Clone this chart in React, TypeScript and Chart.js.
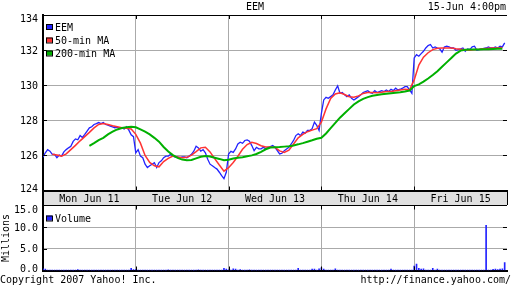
import React, { useEffect, useRef } from "react";
import { Chart, registerables } from "chart.js";

Chart.register(...registerables);

const TITLE = "EEM";
const STAMP = "15-Jun 4:00pm";
const DAYS = ["Mon Jun 11", "Tue Jun 12", "Wed Jun 13", "Thu Jun 14", "Fri Jun 15"];
const PRICE_TICKS = [124, 126, 128, 130, 132, 134];
const VOLUME_TICKS = [0, 5, 10, 15];
const SERIES_NAMES = ["EEM", "50-min MA", "200-min MA"];

// EEM price, 40 samples per trading day
const EEM_MON = [125.9, 126.15, 126.33, 126.24, 126.06, 126.06, 125.87, 126.02, 125.96, 126.2, 126.33, 126.43, 126.52, 126.8, 126.94, 126.89, 127.13, 127.02, 127.2, 127.39, 127.57, 127.63, 127.76, 127.81, 127.87, 127.81, 127.87, 127.76, 127.72, 127.67, 127.63, 127.57, 127.61, 127.54, 127.57, 127.5, 127.63, 127.44, 127.17, 127.07];
const EEM_TUE = [126.15, 126.33, 125.96, 125.87, 125.5, 125.31, 125.41, 125.5, 125.59, 125.31, 125.59, 125.69, 125.87, 125.96, 125.96, 126.06, 125.96, 125.91, 125.91, 125.87, 125.91, 125.91, 125.87, 125.96, 126.06, 126.24, 126.52, 126.43, 126.24, 126.33, 126.15, 125.78, 125.5, 125.41, 125.31, 125.22, 125.04, 124.85, 124.67, 125.04];
const EEM_WED = [126.08, 126.23, 126.17, 126.37, 126.65, 126.75, 126.69, 126.85, 126.88, 126.81, 126.56, 126.27, 126.46, 126.37, 126.37, 126.46, 126.37, 126.46, 126.5, 126.56, 126.46, 126.27, 126.08, 126.12, 126.27, 126.37, 126.46, 126.65, 126.85, 127.13, 127.23, 127.13, 127.33, 127.27, 127.42, 127.42, 127.52, 127.9, 127.71, 127.42];
const EEM_THU = [128.4, 129.16, 129.31, 129.25, 129.35, 129.45, 129.73, 129.96, 129.54, 129.58, 129.45, 129.35, 129.45, 129.25, 129.16, 129.25, 129.35, 129.45, 129.58, 129.64, 129.69, 129.58, 129.54, 129.69, 129.58, 129.64, 129.69, 129.64, 129.73, 129.64, 129.77, 129.69, 129.83, 129.73, 129.77, 129.83, 129.92, 129.92, 129.73, 129.54];
const EEM_FRI = [131.55, 131.74, 131.65, 131.8, 131.93, 132.12, 132.26, 132.32, 132.12, 132.18, 132.12, 132.07, 131.88, 132.18, 132.22, 132.18, 132.12, 132.12, 131.99, 132.03, 132.07, 132.12, 131.93, 132.07, 132.03, 132.18, 132.22, 131.99, 132.03, 132.07, 132.1, 132.12, 132.18, 132.12, 132.12, 132.18, 132.12, 132.22, 132.18, 132.41];

// 50-min moving average, 20 samples per day
const MA50_MON = [null, null, 126.06, 126.02, 125.96, 126.09, 126.33, 126.57, 126.83, 127.07, 127.31, 127.57, 127.76, 127.81, 127.76, 127.69, 127.63, 127.57, 127.54, 127.5];
const MA50_TUE = [127.2, 126.7, 126.0, 125.6, 125.41, 125.35, 125.65, 125.83, 125.96, 125.91, 125.87, 125.89, 126.02, 126.22, 126.43, 126.46, 126.2, 125.82, 125.45, 125.1];
const MA50_WED = [125.3, 125.6, 125.95, 126.35, 126.62, 126.75, 126.68, 126.55, 126.48, 126.48, 126.45, 126.26, 126.17, 126.3, 126.65, 127.0, 127.2, 127.35, 127.44, 127.52];
const MA50_THU = [127.9, 128.65, 129.25, 129.5, 129.57, 129.47, 129.34, 129.31, 129.39, 129.53, 129.58, 129.58, 129.57, 129.6, 129.64, 129.64, 129.69, 129.73, 129.77, 129.74];
const MA50_FRI = [130.3, 131.15, 131.6, 131.85, 132.03, 132.1, 132.12, 132.12, 132.12, 132.08, 132.05, 132.02, 131.99, 132.03, 132.05, 132.08, 132.1, 132.12, 132.12, 132.15];

// 200-min moving average, 20 samples per day
const MA200_MON = [null, null, null, null, null, null, null, null, null, null, 126.54, 126.7, 126.87, 127.0, 127.2, 127.35, 127.48, 127.56, 127.6, 127.63];
const MA200_TUE = [127.6, 127.48, 127.35, 127.2, 127.0, 126.78, 126.48, 126.22, 126.02, 125.86, 125.76, 125.72, 125.74, 125.83, 125.92, 125.96, 125.94, 125.87, 125.8, 125.72];
const MA200_WED = [125.75, 125.82, 125.86, 125.9, 125.95, 126.0, 126.08, 126.2, 126.35, 126.45, 126.47, 126.48, 126.5, 126.52, 126.57, 126.63, 126.7, 126.78, 126.86, 126.95];
const MA200_THU = [127.0, 127.25, 127.55, 127.85, 128.15, 128.4, 128.65, 128.9, 129.08, 129.22, 129.32, 129.4, 129.44, 129.48, 129.51, 129.54, 129.57, 129.6, 129.64, 129.7];
const MA200_FRI = [129.95, 130.05, 130.2, 130.38, 130.58, 130.8, 131.05, 131.3, 131.55, 131.8, 131.97, 132.02, 132.03, 132.04, 132.03, 132.05, 132.05, 132.06, 132.07, 132.08];

// Volume in millions, 40 samples per day
const VOL_MON = [0.4, 0.3, 0.1, 0.05, 0.08, 0.05, 0.06, 0.05, 0.05, 0.04, 0.05, 0.06, 0.05, 0.04, 0.05, 0.2, 0.05, 0.04, 0.05, 0.04, 0.05, 0.04, 0.03, 0.05, 0.04, 0.05, 0.04, 0.04, 0.05, 0.04, 0.05, 0.04, 0.05, 0.04, 0.05, 0.06, 0.08, 0.1, 0.5, 0.2];
const VOL_TUE = [0.2, 0.1, 0.06, 0.05, 0.05, 0.04, 0.05, 0.04, 0.05, 0.04, 0.05, 0.04, 0.05, 0.04, 0.15, 0.04, 0.05, 0.04, 0.05, 0.04, 0.05, 0.04, 0.05, 0.04, 0.05, 0.04, 0.05, 0.15, 0.05, 0.04, 0.05, 0.04, 0.05, 0.06, 0.05, 0.06, 0.08, 0.1, 0.5, 0.3];
const VOL_WED = [0.15, 0.1, 0.4, 0.3, 0.05, 0.2, 0.05, 0.04, 0.05, 0.15, 0.04, 0.05, 0.04, 0.05, 0.04, 0.05, 0.04, 0.05, 0.04, 0.05, 0.04, 0.05, 0.04, 0.05, 0.04, 0.05, 0.04, 0.05, 0.06, 0.05, 0.5, 0.05, 0.06, 0.05, 0.06, 0.08, 0.3, 0.3, 0.1, 0.4];
const VOL_THU = [0.6, 0.3, 0.1, 0.06, 0.05, 0.05, 0.4, 0.05, 0.04, 0.05, 0.04, 0.05, 0.04, 0.05, 0.04, 0.05, 0.04, 0.05, 0.04, 0.05, 0.04, 0.05, 0.04, 0.05, 0.04, 0.05, 0.04, 0.05, 0.04, 0.05, 0.3, 0.05, 0.04, 0.05, 0.04, 0.05, 0.06, 0.05, 0.08, 0.1];
const VOL_FRI = [1.0, 1.5, 0.5, 0.3, 0.4, 0.1, 0.08, 0.06, 0.5, 0.06, 0.3, 0.05, 0.04, 0.05, 0.04, 0.05, 0.04, 0.05, 0.04, 0.05, 0.04, 0.05, 0.04, 0.05, 0.04, 0.05, 0.04, 0.05, 0.04, 0.05, 0.06, 10.4, 0.05, 0.06, 0.25, 0.3, 0.2, 0.3, 0.4, 1.8];

const FONT = "'DejaVu Sans Mono', monospace";
const GRID = "#aaaaaa";
const BLUE = "#2222ff";
const RED = "#ff3333";
const GREEN = "#00b000";
const BAND = "#e0e0e0";

function toPoints(days: (number | null)[][], perDay: number) {
  const pts: { x: number; y: number }[] = [];
  days.forEach((arr, d) =>
    arr.forEach((v, i) => {
      if (v !== null) pts.push({ x: d + i / perDay, y: v });
    })
  );
  return pts;
}

function innerTicks(chart: any, yVals: number[], xVals: number[]) {
  const { ctx, chartArea: a, scales } = chart;
  ctx.save();
  ctx.strokeStyle = "#000";
  ctx.lineWidth = 1;
  ctx.beginPath();
  yVals.forEach((v) => {
    const y = Math.round(scales.y.getPixelForValue(v)) + 0.5;
    ctx.moveTo(a.left, y);
    ctx.lineTo(a.left + 4, y);
    ctx.moveTo(a.right - 4, y);
    ctx.lineTo(a.right, y);
  });
  xVals.forEach((v) => {
    const x = Math.round(scales.x.getPixelForValue(v)) + 0.5;
    ctx.moveTo(x, a.top);
    ctx.lineTo(x, a.top + 4);
    ctx.moveTo(x, a.bottom - 4);
    ctx.lineTo(x, a.bottom);
  });
  ctx.stroke();
  ctx.restore();
}

// y tick labels, placed by the scale but kept inside the plot's height
function yLabels(chart: any, values: number[], fmt: (v: number) => string) {
  const { ctx, chartArea: a, scales } = chart;
  ctx.save();
  ctx.font = `10px ${FONT}`;
  ctx.fillStyle = "#000";
  ctx.textAlign = "right";
  ctx.textBaseline = "middle";
  values.forEach((v) => {
    let y = scales.y.getPixelForValue(v) + 1;
    y = Math.min(Math.max(y, a.top + 4.5), a.bottom - 1.5);
    ctx.fillText(fmt(v), a.left - 5, y);
  });
  ctx.restore();
}

function legendItem(ctx: CanvasRenderingContext2D, x: number, y: number, color: string, text: string) {
  ctx.fillStyle = color;
  ctx.fillRect(x, y, 6, 5);
  ctx.strokeStyle = "#000";
  ctx.lineWidth = 1;
  ctx.strokeRect(x + 0.5, y + 0.5, 6, 5);
  ctx.fillStyle = "#000";
  ctx.textAlign = "left";
  ctx.textBaseline = "middle";
  ctx.fillText(text, x + 9, y + 4);
}

const priceDecor = {
  id: "priceDecor",
  beforeDraw(chart: any) {
    const { ctx, chartArea: a, height } = chart;
    ctx.save();
    ctx.fillStyle = BAND;
    ctx.fillRect(a.left, a.bottom, a.right - a.left, height - a.bottom);
    ctx.restore();
  },
  afterDraw(chart: any) {
    const { ctx, chartArea: a, height } = chart;
    innerTicks(chart, [126, 128, 130, 132], [1, 2, 3, 4]);
    yLabels(chart, PRICE_TICKS, (v) => String(v));
    ctx.save();
    ctx.strokeStyle = "#000";
    ctx.lineWidth = 2;
    ctx.beginPath();
    ctx.moveTo(a.left, a.bottom);
    ctx.lineTo(a.left, height);
    ctx.stroke();
    ctx.lineWidth = 1;
    ctx.beginPath();
    ctx.moveTo(a.right + 0.5, a.bottom);
    ctx.lineTo(a.right + 0.5, height);
    ctx.stroke();
    ctx.font = `10px ${FONT}`;
    ctx.fillStyle = "#000";
    ctx.textBaseline = "middle";
    ctx.textAlign = "center";
    ctx.fillText(TITLE, 255, 7.5);
    ctx.textAlign = "right";
    ctx.fillText(STAMP, 506, 7.5);
    legendItem(ctx, 46, 24, BLUE, SERIES_NAMES[0]);
    legendItem(ctx, 46, 37.5, RED, SERIES_NAMES[1]);
    legendItem(ctx, 46, 50.5, GREEN, SERIES_NAMES[2]);
    ctx.restore();
  },
};

const volumeDecor = {
  id: "volumeDecor",
  afterDraw(chart: any) {
    const { ctx } = chart;
    innerTicks(chart, [5, 10], [1, 2, 3, 4]);
    yLabels(chart, VOLUME_TICKS, (v) => v.toFixed(1));
    ctx.save();
    ctx.font = `10px ${FONT}`;
    legendItem(ctx, 46, 10.5, BLUE, "Volume");
    ctx.fillStyle = "#000";
    ctx.textBaseline = "middle";
    ctx.textAlign = "left";
    ctx.fillText("Copyright 2007 Yahoo! Inc.", 0, 75.5);
    ctx.textAlign = "right";
    ctx.fillText("http://finance.yahoo.com/", 511, 75.5);
    ctx.restore();
  },
};

export default function App() {
  const priceRef = useRef<HTMLCanvasElement>(null);
  const volRef = useRef<HTMLCanvasElement>(null);

  useEffect(() => {
    Chart.defaults.font.family = FONT;
    Chart.defaults.font.size = 10;
    Chart.defaults.color = "#000";

    const eem = toPoints([EEM_MON, EEM_TUE, EEM_WED, EEM_THU, EEM_FRI], 40);
    const ma50 = toPoints([MA50_MON, MA50_TUE, MA50_WED, MA50_THU, MA50_FRI], 20);
    const ma200 = toPoints([MA200_MON, MA200_TUE, MA200_WED, MA200_THU, MA200_FRI], 20);
    const vol = toPoints([VOL_MON, VOL_TUE, VOL_WED, VOL_THU, VOL_FRI], 40);

    const priceChart = new Chart(priceRef.current as HTMLCanvasElement, {
      type: "line",
      data: {
        datasets: [
          { label: SERIES_NAMES[2], data: ma200, borderColor: GREEN, borderWidth: 2, pointRadius: 0, tension: 0 },
          { label: SERIES_NAMES[1], data: ma50, borderColor: RED, borderWidth: 1.5, pointRadius: 0, tension: 0 },
          { label: SERIES_NAMES[0], data: eem, borderColor: BLUE, borderWidth: 1.3, pointRadius: 0, tension: 0 },
        ],
      },
      options: {
        animation: false,
        responsive: false,
        maintainAspectRatio: false,
        layout: { autoPadding: false, padding: { left: 0, right: 5, top: 15, bottom: 0 } },
        plugins: { legend: { display: false }, tooltip: { enabled: false }, title: { display: false } },
        scales: {
          x: {
            type: "linear",
            position: "bottom",
            weight: 0,
            min: 0,
            max: 5,
            afterBuildTicks: (s: any) => {
              s.ticks = [0, 1, 2, 3, 4, 5].map((v) => ({ value: v }));
            },
            ticks: { display: false },
            grid: {
              color: (c: any) => (c.tick && c.tick.value > 0 && c.tick.value < 5 ? GRID : "rgba(0,0,0,0)"),
              drawTicks: false,
              lineWidth: 1,
            },
            border: { display: true, color: "#000", width: 2 },
            afterFit: (s: any) => {
              s.height = 0;
            },
          },
          x2: {
            type: "linear",
            position: "bottom",
            weight: 1,
            min: 0,
            max: 5,
            afterBuildTicks: (s: any) => {
              s.ticks = DAYS.map((_, i) => ({ value: i + 0.5 }));
            },
            ticks: {
              autoSkip: false,
              maxRotation: 0,
              padding: 3,
              color: "#000",
              font: { family: FONT, size: 10 },
              callback: (v: any) => DAYS[Math.floor(Number(v))],
            },
            grid: { display: false, drawTicks: false },
            border: { display: false },
            afterFit: (s: any) => {
              s.height = 14.5;
            },
          },
          y: {
            min: 124,
            max: 134,
            afterBuildTicks: (s: any) => {
              s.ticks = PRICE_TICKS.map((v) => ({ value: v }));
            },
            ticks: { display: false },
            grid: {
              color: (c: any) =>
                c.tick && c.tick.value === 134 ? "#000" : c.tick && c.tick.value === 124 ? "rgba(0,0,0,0)" : GRID,
              drawTicks: false,
              lineWidth: 1,
            },
            border: { display: true, color: "#000", width: 2 },
            afterFit: (s: any) => {
              s.width = 43;
            },
          },
        },
      } as any,
      plugins: [priceDecor],
    });

    const volumeChart = new Chart(volRef.current as HTMLCanvasElement, {
      type: "bar",
      data: {
        datasets: [
          {
            label: "Volume",
            data: vol,
            backgroundColor: BLUE,
            borderWidth: 0,
            barThickness: 1,
          },
        ],
      },
      options: {
        animation: false,
        responsive: false,
        maintainAspectRatio: false,
        layout: { autoPadding: false, padding: { left: 0, right: 5, top: 0.5, bottom: 17.5 } },
        plugins: { legend: { display: false }, tooltip: { enabled: false } },
        scales: {
          x: {
            type: "linear",
            min: 0,
            max: 5,
            offset: false,
            afterBuildTicks: (s: any) => {
              s.ticks = [0, 1, 2, 3, 4, 5].map((v) => ({ value: v }));
            },
            ticks: { display: false },
            grid: {
              color: (c: any) => (c.tick && c.tick.value > 0 && c.tick.value < 5 ? GRID : "rgba(0,0,0,0)"),
              drawTicks: false,
              offset: false,
            },
            border: { display: true, color: "#000", width: 2 },
            afterFit: (s: any) => {
              s.height = 0;
            },
          },
          y: {
            min: 0,
            max: 15,
            afterBuildTicks: (s: any) => {
              s.ticks = VOLUME_TICKS.map((v) => ({ value: v }));
            },
            ticks: { display: false },
            title: {
              display: true,
              text: "Millions",
              color: "#000",
              font: { family: FONT, size: 10 },
              padding: { top: 0, bottom: 0 },
            },
            grid: {
              color: (c: any) =>
                c.tick && c.tick.value === 15 ? "#000" : c.tick && c.tick.value === 0 ? "rgba(0,0,0,0)" : GRID,
              drawTicks: false,
            },
            border: { display: true, color: "#000", width: 2 },
            afterFit: (s: any) => {
              s.width = 43;
            },
          },
        },
      } as any,
      plugins: [volumeDecor],
    });

    return () => {
      priceChart.destroy();
      volumeChart.destroy();
    };
  }, []);

  return (
    <div style={{ position: "fixed", left: 0, top: 0, width: 512, height: 288, background: "#fff", overflow: "hidden" }}>
      <canvas ref={priceRef} width={512} height={205} style={{ position: "absolute", left: 0, top: 0, width: 512, height: 205 }} />
      <canvas ref={volRef} width={512} height={83} style={{ position: "absolute", left: 0, top: 205, width: 512, height: 83 }} />
    </div>
  );
}
